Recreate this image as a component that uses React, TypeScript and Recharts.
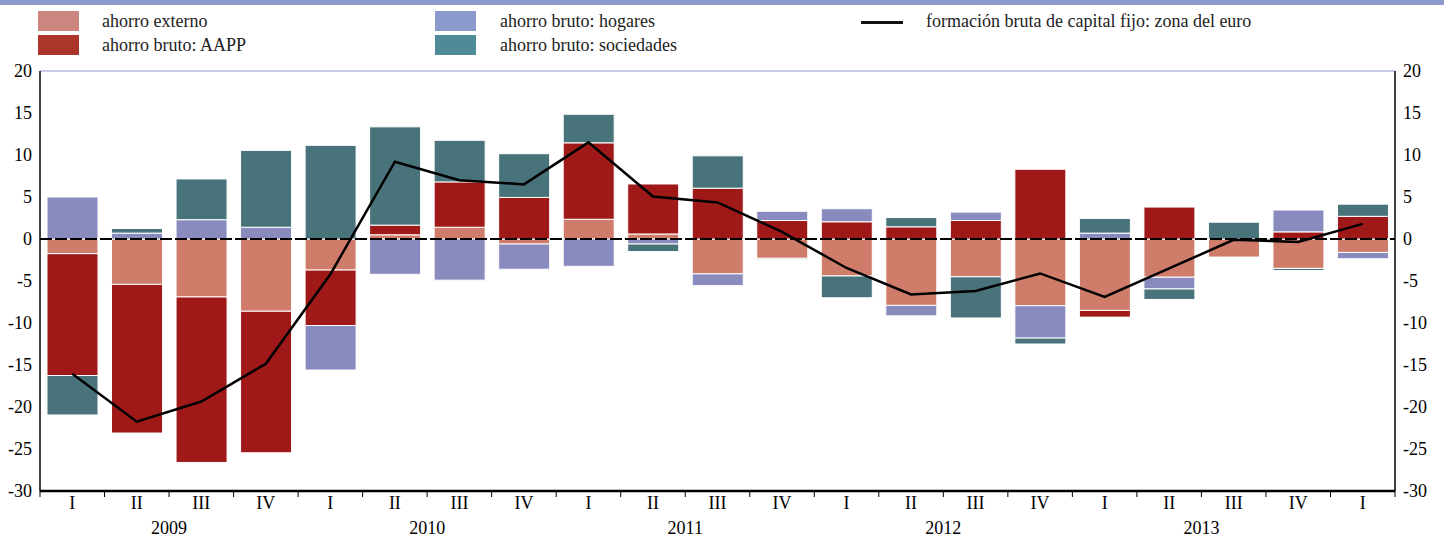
import React from 'react';
import { ComposedChart, Bar, Line, XAxis, YAxis, CartesianGrid, ReferenceLine } from 'recharts';

const quarters = ['I', 'II', 'III', 'IV', 'I', 'II', 'III', 'IV', 'I', 'II', 'III', 'IV', 'I', 'II', 'III', 'IV', 'I', 'II', 'III', 'IV', 'I'];
const years = ['2009', '2010', '2011', '2012', '2013'];
const ahorroExterno = [-1.75, -5.4, -6.9, -8.6, -3.7, 0.5, 1.4, -0.6, 2.35, 0.6, -4.15, -2.3, -4.4, -7.9, -4.5, -7.95, -8.5, -4.55, -2.15, -3.5, -1.6];
const ahorroAAPP = [-14.5, -17.7, -19.7, -16.85, -6.6, 1.15, 5.4, 4.95, 9.1, 5.95, 6.05, 2.2, 2.05, 1.45, 2.2, 8.3, -0.8, 3.8, 0, 0.85, 2.7];
const ahorroHogares = [5.0, 0.7, 2.3, 1.4, -5.3, -4.2, -4.9, -3.0, -3.25, -0.6, -1.4, 1.1, 1.55, -1.25, 1.0, -3.85, 0.7, -1.4, 0, 2.6, -0.75];
const ahorroSociedades = [-4.7, 0.55, 4.85, 9.15, 11.15, 11.7, 4.95, 5.2, 3.4, -0.9, 3.85, -0.1, -2.6, 1.1, -4.9, -0.7, 1.75, -1.25, 2.0, -0.25, 1.45];
const fbcf = [-16.05, -21.75, -19.35, -14.85, -4.2, 9.2, 7.0, 6.5, 11.5, 5.05, 4.35, 0.85, -3.45, -6.6, -6.2, -4.1, -6.9, -3.5, -0.1, -0.35, 1.8];
const yTicks = [-30, -25, -20, -15, -10, -5, 0, 5, 10, 15, 20];

const data = quarters.map((q, i) => ({
  idx: i,
  q,
  externo: ahorroExterno[i],
  aapp: ahorroAAPP[i],
  hogares: ahorroHogares[i],
  sociedades: ahorroSociedades[i],
  fbcf: fbcf[i],
}));

const FONT = '"Liberation Serif", "Times New Roman", serif';
const PLOT_LEFT = 40;
const PLOT_RIGHT = 1395;
const BAND = (PLOT_RIGHT - PLOT_LEFT) / quarters.length;
const AXIS_Y = 491;

const XTick = (props: any) => {
  const { x, payload, index } = props;
  const i = typeof index === 'number' ? index : payload.index;
  const cx = payload.coordinate ?? x;
  const yearIdx = Math.floor(i / 4);
  const showYear = i % 4 === 1 && yearIdx < years.length;
  return (
    <g>
      <line x1={cx - BAND / 2} x2={cx - BAND / 2} y1={AXIS_Y} y2={AXIS_Y + 6} stroke="#000" strokeWidth={1} />
      {i === quarters.length - 1 && (
        <line x1={cx + BAND / 2} x2={cx + BAND / 2} y1={AXIS_Y} y2={AXIS_Y + 6} stroke="#000" strokeWidth={1} />
      )}
      <text x={cx} y={509} textAnchor="middle" fontFamily={FONT} fontSize={18} fill="#000">
        {quarters[i]}
      </text>
      {showYear && (
        <text x={cx + BAND / 2} y={534} textAnchor="middle" fontFamily={FONT} fontSize={18} fill="#000">
          {years[yearIdx]}
        </text>
      )}
    </g>
  );
};

const legendItems = [
  { label: 'ahorro externo', color: '#cc857f', x: 38, y: 11, tx: 102 },
  { label: 'ahorro bruto: AAPP', color: '#ab352b', x: 38, y: 35, tx: 102 },
  { label: 'ahorro bruto: hogares', color: '#8c99cc', x: 435, y: 11, tx: 500 },
  { label: 'ahorro bruto: sociedades', color: '#4f8a98', x: 435, y: 35, tx: 500 },
];

export default function App() {
  return (
    <div style={{ position: 'absolute', left: 0, top: 0, width: 1444, height: 538, background: '#fff', fontFamily: FONT }}>
      <div style={{ position: 'absolute', left: 0, top: 0, width: 1444, height: 5, background: '#8d9acb' }} />
      {legendItems.map((it) => (
        <React.Fragment key={it.label}>
          <div style={{ position: 'absolute', left: it.x, top: it.y, width: 41, height: 20, background: it.color }} />
          <div style={{ position: 'absolute', left: it.tx, top: it.y - 1, height: 22, lineHeight: '22px', fontSize: 18, color: '#222', whiteSpace: 'nowrap' }}>
            {it.label}
          </div>
        </React.Fragment>
      ))}
      <div style={{ position: 'absolute', left: 861, top: 21, width: 42, height: 3, background: '#111' }} />
      <div style={{ position: 'absolute', left: 926, top: 10, height: 22, lineHeight: '22px', fontSize: 18, color: '#222', whiteSpace: 'nowrap' }}>
        formación bruta de capital fijo: zona del euro
      </div>
      <div style={{ position: 'absolute', left: 0, top: 0 }}>
        <ComposedChart
          width={1444}
          height={538}
          data={data}
          stackOffset="sign"
          barCategoryGap={7}
          margin={{ top: 71, right: 0, bottom: 0, left: 0 }}
        >
          <CartesianGrid horizontal vertical={false} stroke="#b6badf" strokeWidth={1.5} />
          <XAxis
            dataKey="idx"
            type="category"
            height={47}
            axisLine={{ stroke: '#000', strokeWidth: 2.5 }}
            tickLine={false}
            tick={<XTick />}
            interval={0}
          />
          <YAxis
            yAxisId="left"
            orientation="left"
            width={40}
            domain={[-30, 20]}
            ticks={yTicks}
            interval={0}
            axisLine={{ stroke: '#000', strokeWidth: 1.5 }}
            tickLine={false}
            tick={{ fill: '#000', fontSize: 18, fontFamily: FONT }}
            allowDataOverflow
          />
          <YAxis
            yAxisId="right"
            orientation="right"
            width={49}
            domain={[-30, 20]}
            ticks={yTicks}
            interval={0}
            axisLine={{ stroke: '#000', strokeWidth: 1.5 }}
            tickLine={false}
            tick={{ fill: '#000', fontSize: 18, fontFamily: FONT }}
            allowDataOverflow
          />
          <Bar yAxisId="left" dataKey="externo" stackId="s" fill="#cf7c6a" stroke="#fff" strokeWidth={1} isAnimationActive={false} />
          <Bar yAxisId="left" dataKey="aapp" stackId="s" fill="#9e1917" stroke="#fff" strokeWidth={1} isAnimationActive={false} />
          <Bar yAxisId="left" dataKey="hogares" stackId="s" fill="#898bbe" stroke="#fff" strokeWidth={1} isAnimationActive={false} />
          <Bar yAxisId="left" dataKey="sociedades" stackId="s" fill="#48737b" stroke="#fff" strokeWidth={1} isAnimationActive={false} />
          <ReferenceLine yAxisId="left" y={0} stroke="#000" strokeWidth={1.8} strokeDasharray="12 3" />
          <Line yAxisId="left" dataKey="fbcf" type="linear" stroke="#000" strokeWidth={2.5} dot={false} isAnimationActive={false} />
        </ComposedChart>
      </div>
    </div>
  );
}
